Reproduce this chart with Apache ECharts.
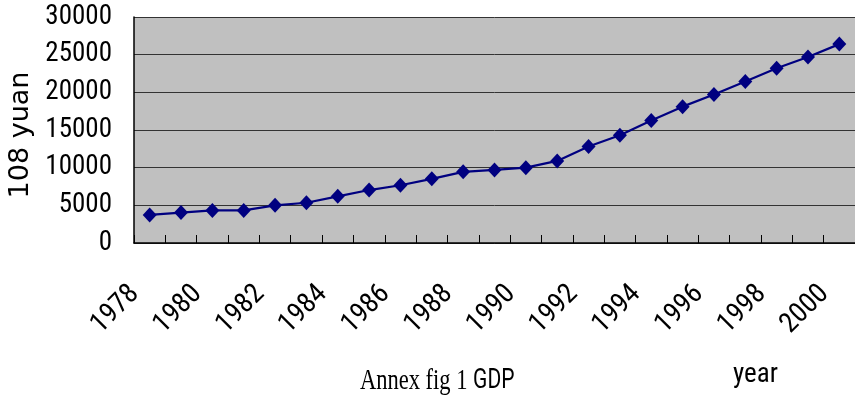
<!DOCTYPE html>
<html>
<head>
<meta charset="utf-8">
<title>Annex fig 1 GDP</title>
<script src="https://cdn.jsdelivr.net/npm/echarts@6/dist/echarts.min.js"></script>
<style>
  html, body { margin: 0; padding: 0; background: #ffffff; }
  #chart { width: 855px; height: 396px; }
</style>
</head>
<body>
<div id="chart"></div>
<script>
// GDP by year, in 10^8 yuan
const years = ['1978', '1979', '1980', '1981', '1982', '1983', '1984', '1985',
  '1986', '1987', '1988', '1989', '1990', '1991', '1992', '1993', '1994',
  '1995', '1996', '1997', '1998', '1999', '2000'];
const gdp = [3730, 4040, 4320, 4320, 5000, 5340, 6190, 7030, 7670, 8520,
  9450, 9700, 10000, 10900, 12800, 14300, 16250, 18100, 19700, 21450,
  23200, 24700, 26400];
const yTicks = { min: 0, max: 30000, step: 5000 };
const yAxisTitle = '108 yuan';
const xAxisTitle = 'year';
const caption = 'Annex fig 1 ';
const captionTail = 'GDP';

// Roboto is a variable font: the "condensed" stretch keyword (placed in the
// weight slot of the canvas font string) selects its narrow width.
const narrowFamily = "Roboto, sans-serif";
const narrowStretch = 'condensed';

const chart = echarts.init(document.getElementById('chart'), null, { renderer: 'canvas' });

chart.setOption({
  backgroundColor: '#ffffff',
  animation: false,
  grid: {
    left: 134, top: 17, right: 0, bottom: 153,
    containLabel: false,
    outerBoundsMode: 'none',
    show: true, backgroundColor: '#c0c0c0', borderWidth: 0
  },
  xAxis: {
    type: 'category',
    data: years,
    boundaryGap: true,
    axisLine: { show: true, lineStyle: { color: '#000', width: 1.5 } },
    axisTick: { show: true, inside: true, length: 8, interval: 0, lineStyle: { color: '#000' } },
    axisLabel: {
      interval: 1, rotate: 45, margin: 32,
      padding: [0, 21, 0, 0],
      fontFamily: narrowFamily, fontWeight: narrowStretch, fontSize: 28, color: '#000'
    },
    splitLine: { show: false }
  },
  yAxis: {
    type: 'value',
    min: yTicks.min, max: yTicks.max, interval: yTicks.step,
    name: yAxisTitle,
    nameLocation: 'middle',
    nameGap: 92,
    nameTextStyle: {
      fontFamily: "'DejaVu Sans', sans-serif", fontSize: 27, color: '#000',
      padding: [0, 10, 0, 0]
    },
    axisLine: { show: true, lineStyle: { color: '#000', width: 1.5 } },
    axisTick: { show: false },
    axisLabel: {
      margin: 22, fontFamily: narrowFamily, fontWeight: narrowStretch, fontSize: 27, color: '#000',
      formatter: (v) => String(v)
    },
    splitLine: { show: true, lineStyle: { color: '#333', width: 1 } }
  },
  series: [{
    type: 'line',
    data: gdp,
    symbol: 'diamond',
    symbolSize: [14, 15],
    showSymbol: true,
    lineStyle: { color: '#000080', width: 2.2 },
    itemStyle: { color: '#000080' }
  }],
  graphic: [
    {
      // caption set in a tall, horizontally squeezed face
      type: 'text', x: 360, y: 366, scaleX: 0.75, scaleY: 1,
      style: {
        text: '{a|' + caption + '}{b|' + captionTail + '}',
        rich: {
          a: { fontFamily: "'Liberation Serif', serif", fontSize: 30, fill: '#000' },
          b: { fontFamily: narrowFamily, fontSize: 28, fill: '#000' }
        }
      }
    },
    {
      type: 'text', left: 733, top: 362,
      style: { text: xAxisTitle, fontFamily: narrowFamily, fontWeight: narrowStretch, fontSize: 27, fill: '#000' }
    }
  ]
});
</script>
</body>
</html>
